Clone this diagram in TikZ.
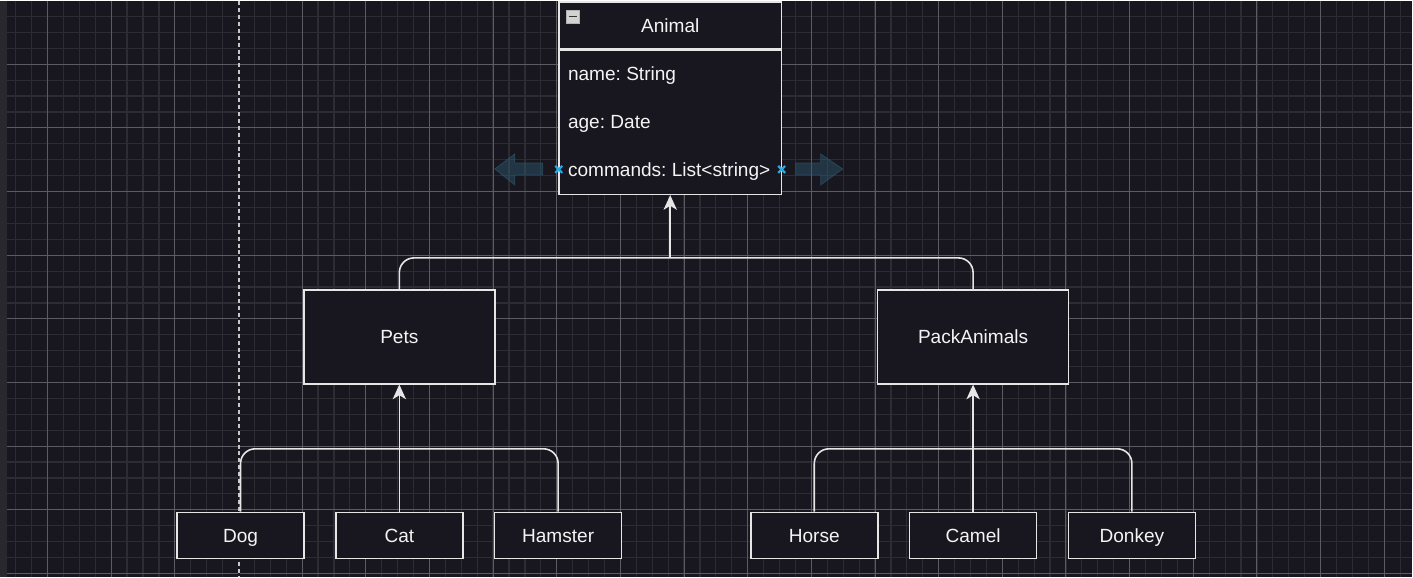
\documentclass[tikz,border=0pt]{standalone}
\usepackage{fontspec}
\setmainfont{Liberation Sans}
\frenchspacing
\usetikzlibrary{arrows.meta}
\usetikzlibrary{positioning}

\definecolor{canvas}{HTML}{18161E}
\definecolor{gridminor}{HTML}{2D2C32}
\definecolor{gridmajor}{HTML}{5C5B61}
\definecolor{boxline}{HTML}{E6E6E6}
\definecolor{labeltext}{HTML}{F4F4F4}
\definecolor{ghost}{HTML}{2F5B74}
\definecolor{handle}{HTML}{2AA8E6}

\tikzset{
  box/.style={draw=boxline, fill=canvas, line width=1.1pt, text=labeltext,
    font=\fontsize{14.3}{17}\selectfont, inner sep=0pt, text height=10.3pt, text depth=0pt},
  classbox/.style={box, minimum width=143.25pt, minimum height=70.5pt},
  leafbox/.style={box, minimum width=95.25pt, minimum height=34.5pt},
  field/.style={text=labeltext, font=\fontsize{14.3}{17}\selectfont, anchor=west, inner sep=0pt,
    text height=10.3pt, text depth=0pt},
  branch/.style={draw=boxline, line width=1.2pt, rounded corners=11pt},
  conn/.style={branch, -{Stealth[length=11pt,width=10pt,inset=3pt]}},
}

\begin{document}
\begin{tikzpicture}[x=0.75pt, y=-0.75pt, node distance=95.25pt and 22.8pt]
  % Canvas and grid
  \fill[canvas] (0,0) rectangle (1413,576);
  \fill[gridminor!80!canvas] (0,0) rectangle (7,576);
  \foreach \k in {0,...,87}
    \draw[gridminor, line width=0.9pt] ({15.7+15.92*\k},0) -- ({15.7+15.92*\k},576);
  \foreach \k in {0,...,35}
    \draw[gridminor, line width=0.9pt] (7,{15.5+15.92*\k}) -- (1413,{15.5+15.92*\k});
  \foreach \k in {2,6,...,86}
    \draw[gridmajor, line width=0.75pt] ({15.7+15.92*\k},0) -- ({15.7+15.92*\k},576);
  \foreach \k in {3,7,...,35}
    \draw[gridmajor, line width=0.75pt] (7,{15.5+15.92*\k}) -- (1413,{15.5+15.92*\k});
  \draw[canvas, line width=1.5pt] (238.6,0) -- (238.6,576);
  \draw[boxline!85!canvas, line width=1.5pt, dash pattern=on 3pt off 2.2pt] (238.6,0) -- (238.6,576);

  % Class Animal
  \node (animal) [box, minimum width=167.25pt, minimum height=35.25pt] at (670.5,24.5) {Animal};
  \node (animalbody) [box, minimum width=167.25pt, minimum height=108pt, below=0pt of animal] {};
  \node (name) [field] at (568,73) {name: String};
  \node (age) [field] at (568,121) {age: Date};
  \node (commands) [field] at (568,169) {commands: List<string>};

  % collapse icon
  \draw[gray!60, fill=gray!35] (567,9) rectangle (580,22);
  \draw[black!80, line width=1.3pt] (569.5,15.5) -- (577.5,15.5);

  % hover handles
  \filldraw[fill=ghost, fill opacity=0.45, draw=ghost, draw opacity=0.6, line width=0.6pt]
    (495,168) -- (515,153) -- (515,162) -- (543,162) -- (543,174) -- (515,174) -- (515,184) -- cycle;
  \filldraw[fill=ghost, fill opacity=0.45, draw=ghost, draw opacity=0.6, line width=0.6pt]
    (843,168) -- (821,153) -- (821,162) -- (796,162) -- (796,174) -- (821,174) -- (821,184) -- cycle;
  \draw[handle, line width=1.6pt] (555.5,165) -- (562.5,172) (555.5,172) -- (562.5,165);
  \draw[handle, line width=1.6pt] (778.5,165) -- (785.5,172) (778.5,172) -- (785.5,165);

  % Subclasses
  \node (pets) [classbox] at (399.5,336) {Pets};
  \node (pack) [classbox] at (973.5,336) {PackAnimals};

  % Leaves
  \node (cat) [leafbox, below=of pets] {Cat};
  \node (dog) [leafbox, left=of cat] {Dog};
  \node (hamster) [leafbox, right=of cat] {Hamster};
  \node (camel) [leafbox, below=of pack] {Camel};
  \node (horse) [leafbox, left=of camel] {Horse};
  \node (donkey) [leafbox, right=of camel] {Donkey};

  % Generalisation connectors
  \coordinate (hubA) at (670.5,257);
  \coordinate (hubB) at (399.5,448);
  \coordinate (hubC) at (973.5,448);
  \draw[branch] (pets.north) |- (hubA);
  \draw[branch] (pack.north) |- (hubA);
  \draw[conn] (hubA) -- (animalbody.south);
  \draw[branch] (dog.north) |- (hubB);
  \draw[branch] (hamster.north) |- (hubB);
  \draw[conn] (cat.north) -- (pets.south);
  \draw[branch] (horse.north) |- (hubC);
  \draw[branch] (donkey.north) |- (hubC);
  \draw[conn] (camel.north) -- (pack.south);
\end{tikzpicture}
\end{document}
